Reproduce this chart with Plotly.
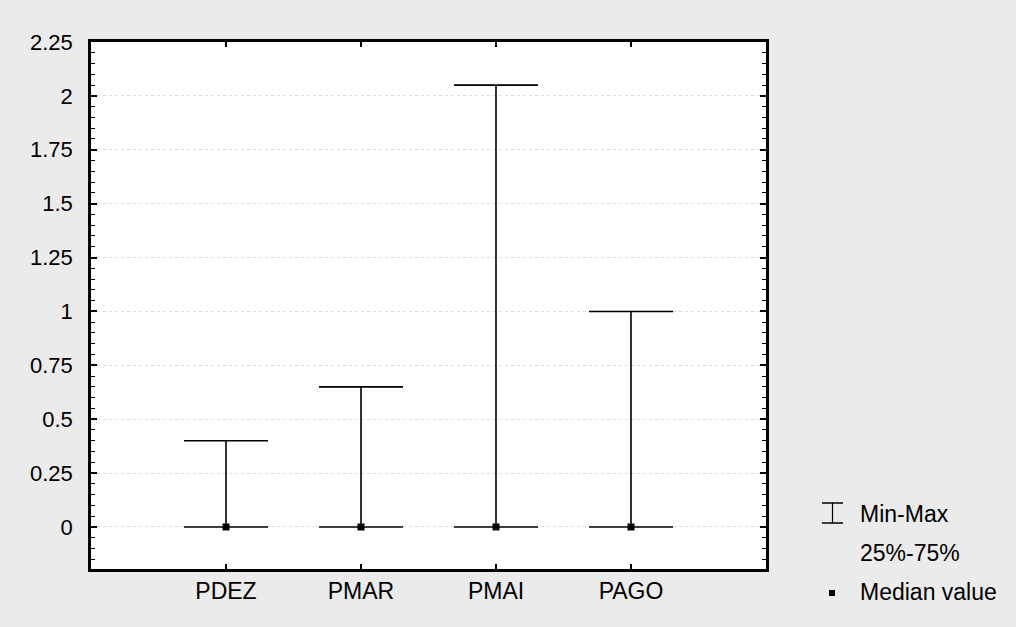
import plotly.graph_objects as go

categories = ["PDEZ", "PMAR", "PMAI", "PAGO"]
medians = [0, 0, 0, 0]
minimums = [0, 0, 0, 0]
maximums = [0.40, 0.65, 2.05, 1.00]
y_ticks = [0, 0.25, 0.5, 0.75, 1, 1.25, 1.5, 1.75, 2, 2.25]
y_tick_labels = ["0", "0.25", "0.5", "0.75", "1", "1.25", "1.5", "1.75", "2", "2.25"]
legend_labels = ["Min-Max", "25%-75%", "Median value"]

FONT = "Arial, Liberation Sans, sans-serif"
xpos = list(range(len(categories)))

fig = go.Figure()

fig.add_trace(go.Scatter(
    x=xpos, y=medians, mode="markers",
    marker=dict(symbol="square", size=7, color="black"),
    error_y=dict(type="data", symmetric=False,
                 array=[mx - md for mx, md in zip(maximums, medians)],
                 arrayminus=[md - mn for md, mn in zip(medians, minimums)],
                 color="black", thickness=1.6, width=42),
    showlegend=False, hoverinfo="skip",
))

fig.update_layout(
    width=1016, height=627,
    margin=dict(l=91, r=250, t=42, b=58),
    paper_bgcolor="#ebebeb", plot_bgcolor="white",
    font=dict(family=FONT, size=22, color="black"),
    showlegend=False,
)

fig.update_xaxes(
    range=[-1, 4], tickmode="array", tickvals=xpos, ticktext=categories,
    ticks="inside", ticklen=5, tickwidth=1.5, tickcolor="black",
    showline=True, linecolor="black", linewidth=2.5, mirror="ticks",
    showgrid=False, zeroline=False, ticklabelstandoff=0,
    tickfont=dict(size=23, family=FONT),
)
fig.update_yaxes(
    range=[-0.195, 2.25], tickmode="array", tickvals=y_ticks, ticktext=y_tick_labels,
    ticks="inside", ticklen=6, tickwidth=1.5, tickcolor="black",
    minor=dict(dtick=0.05, tick0=0, ticks="inside", ticklen=4, tickwidth=1.2,
               tickcolor="black", showgrid=False),
    showline=True, linecolor="black", linewidth=2.5, mirror="ticks",
    showgrid=True, gridcolor="#dcdcdc", griddash="dot", gridwidth=1,
    zeroline=False, ticklabelstandoff=11,
    tickfont=dict(size=22, family=FONT),
)

# Legend drawn in paper coordinates
def px_x(px):
    return (px - 91) / 675.0

def px_y(py):
    return (569 - py) / 527.0

# Min-Max icon
fig.add_shape(type="line", xref="paper", yref="paper",
              x0=px_x(822), x1=px_x(843), y0=px_y(503), y1=px_y(503),
              line=dict(color="black", width=1.5))
fig.add_shape(type="line", xref="paper", yref="paper",
              x0=px_x(822), x1=px_x(843), y0=px_y(523), y1=px_y(523),
              line=dict(color="black", width=1.5))
fig.add_shape(type="line", xref="paper", yref="paper",
              x0=px_x(832.5), x1=px_x(832.5), y0=px_y(503), y1=px_y(523),
              line=dict(color="black", width=1.2))
# Median icon
fig.add_shape(type="rect", xref="paper", yref="paper",
              x0=px_x(829), x1=px_x(835), y0=px_y(590), y1=px_y(596),
              fillcolor="black", line=dict(color="black", width=0))

for label, py in zip(legend_labels, [514, 553, 592]):
    fig.add_annotation(text=label, xref="paper", yref="paper",
                       x=px_x(858), y=px_y(py), xanchor="left", yanchor="middle",
                       showarrow=False, font=dict(size=23, family=FONT))

fig.write_html("out.html")
